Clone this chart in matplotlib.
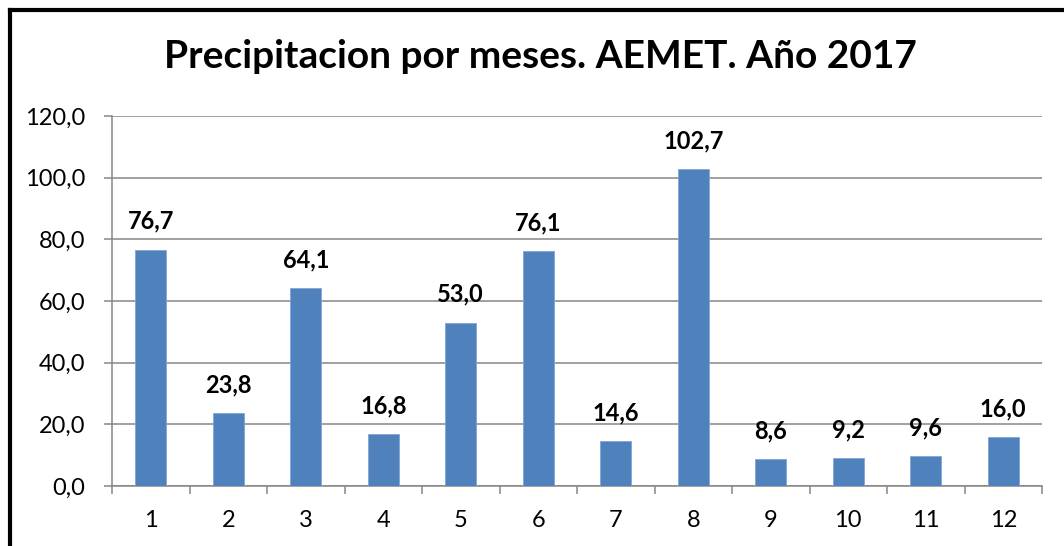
import numpy as np
import matplotlib
matplotlib.use('Agg')
from matplotlib import pyplot as plt
from matplotlib.lines import Line2D

# data
meses = ['1', '2', '3', '4', '5', '6', '7', '8', '9', '10', '11', '12']
precip = [76.7, 23.8, 64.1, 16.8, 53.0, 76.1, 14.6, 102.7, 8.6, 9.2, 9.6, 16.0]
yticks = [0, 20, 40, 60, 80, 100, 120]

plt.rcParams['font.family'] = ['Lato', 'DejaVu Sans']

fig = plt.figure(figsize=(10.64, 5.46), dpi=100)
ax = fig.add_axes([112 / 1064, 1 - 486 / 546, 930 / 1064, 370 / 546])

x = np.arange(len(meses))
bars = ax.bar(x, precip, width=0.4, color='#4F81BD', edgecolor='#7FA6D6',
              linewidth=0.6, zorder=3)

for xi, v in zip(x, precip):
    ax.annotate(f'{v:.1f}'.replace('.', ','), (xi, v), xytext=(0, 12),
                textcoords='offset points', ha='center', va='bottom',
                fontsize=17, fontweight='bold', color='black')

ax.set_xlim(-0.5, len(meses) - 0.5)
ax.set_ylim(0, 120)
ax.set_yticks(yticks)
ax.set_yticklabels([f'{t:.1f}'.replace('.', ',') for t in yticks])
ax.yaxis.grid(True, color='#868686', linewidth=1.1, zorder=0)
ax.set_axisbelow(True)

ax.set_xticks(x)
ax.set_xticklabels(meses)
ax.set_xticks(np.arange(len(meses) + 1) - 0.5, minor=True)
ax.tick_params(axis='x', which='major', length=0, pad=17, labelsize=17)
ax.tick_params(axis='x', which='minor', length=6, width=1.1, color='#868686')
ax.tick_params(axis='y', length=6, width=1.1, color='#868686', pad=13, labelsize=17)

for s in ['top', 'right']:
    ax.spines[s].set_visible(False)
for s in ['left', 'bottom']:
    ax.spines[s].set_color('#868686')
    ax.spines[s].set_linewidth(1.1)

fig.text(540 / 1064, 1 - 57 / 546, 'Precipitacion por meses. AEMET. Año 2017',
         ha='center', va='center', fontsize=28, fontweight='bold')

# chart border
fig.add_artist(Line2D([10 / 1064, 10 / 1064], [0, 1 - 10 / 546], transform=fig.transFigure,
                      color='black', linewidth=3, solid_capstyle='projecting'))
fig.add_artist(Line2D([10 / 1064, 1], [1 - 10 / 546, 1 - 10 / 546], transform=fig.transFigure,
                      color='black', linewidth=3, solid_capstyle='projecting'))

fig.savefig('out.png', dpi=100)
